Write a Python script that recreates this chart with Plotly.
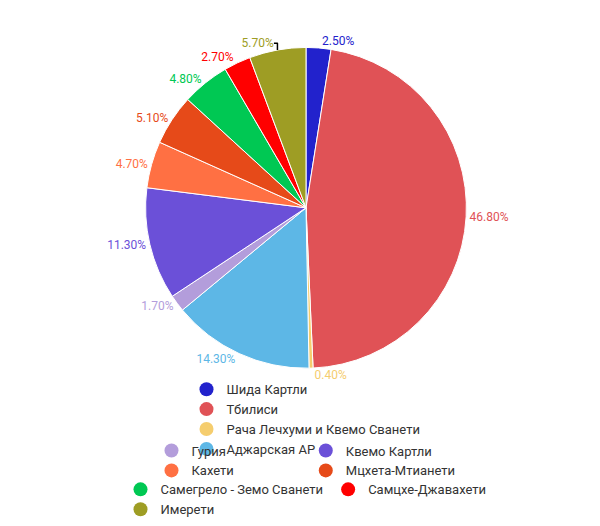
import plotly.graph_objects as go

labels = ["Шида Картли", "Тбилиси", "Рача Лечхуми и Квемо Сванети", "Аджарская АР",
          "Гурия", "Квемо Картли", "Кахети", "Мцхета-Мтианети",
          "Самегрело - Земо Сванети", "Самцхе-Джавахети", "Имерети"]
values = [2.5, 46.8, 0.4, 14.3, 1.7, 11.3, 4.7, 5.1, 4.8, 2.7, 5.7]
colors = ["#2222cc", "#e05256", "#f5cd6e", "#5db7e6", "#b39ddb", "#6b50d8",
          "#ff7043", "#e64a19", "#00c853", "#ff0000", "#9e9d24"]
legend_rows = [0, 0, 0, 0, 1, 1, 1, 1, 2, 2, 2]

fig = go.Figure()
fig.add_trace(go.Pie(
    labels=labels, values=values, sort=False, direction="clockwise", rotation=0,
    marker=dict(colors=colors, line=dict(color="white", width=1)),
    textposition="outside", texttemplate="%{value:.2f}%",
    textfont=dict(color=colors, size=12, family="Roboto"),
    showlegend=False, domain=dict(x=[0, 1], y=[0.3, 0.96]),
))
legend_keys = ["legend", "legend2", "legend3"]
for lab, c, r in zip(labels, colors, legend_rows):
    fig.add_trace(go.Scatter(x=[None], y=[None], mode="markers", name=lab,
                             legend=legend_keys[r],
                             marker=dict(symbol="circle", size=14, color=c)))

leg = dict(orientation="h", x=0.5, xanchor="center", yanchor="middle",
           font=dict(size=13, color="#333"), bgcolor="rgba(0,0,0,0)")
fig.update_layout(
    width=600, height=526, paper_bgcolor="white", plot_bgcolor="white",
    margin=dict(l=10, r=10, t=20, b=10),
    font=dict(family="Roboto", size=13, color="#333"),
    xaxis=dict(visible=False), yaxis=dict(visible=False),
    legend=dict(leg, y=0.195),
    legend2=dict(leg, y=0.11),
    legend3=dict(leg, y=0.03),
)
fig.write_html("out.html")
